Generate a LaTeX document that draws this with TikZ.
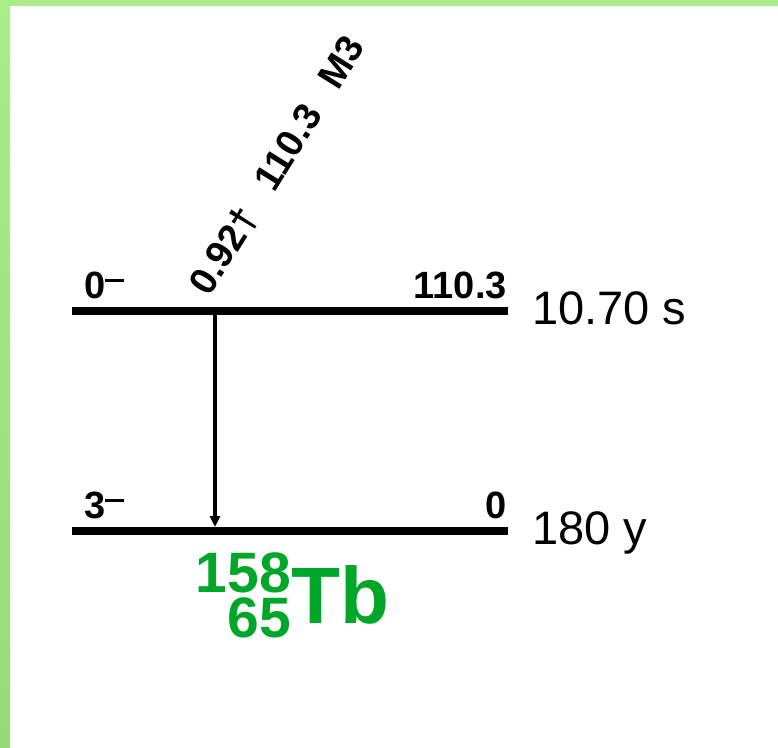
\documentclass[tikz,border=0pt]{standalone}
\usepackage{fontspec}
\setmainfont{Liberation Sans}
\definecolor{framegreen}{RGB}{170,236,136}
\definecolor{framegreendark}{RGB}{152,218,120}
\definecolor{nuclidegreen}{RGB}{0,166,40}
\usetikzlibrary{arrows.meta,positioning}

\newcommand{\spinminus}{\raisebox{0.43em}{\rule{0.5em}{0.07em}}}

\begin{document}
\begin{tikzpicture}[x=1pt,y=-1pt,
    every node/.style={inner sep=0pt},
    lvltext/.style={font=\fontsize{38}{38}\selectfont\bfseries},
    halflife/.style={font=\fontsize{47}{47}\selectfont, anchor=base west},
    nucl/.style={font=\fontsize{#1}{#1}\selectfont\bfseries, text=nuclidegreen}]
  \useasboundingbox (0,0) rectangle (778,747);
  % frame
  \fill[framegreen] (0,0) rectangle (778,6);
  \shade[top color=framegreen, bottom color=framegreendark] (0,0) rectangle (10,747);
  % levels
  \foreach \lv/\yy/\jp/\en/\hl in {up/311/0/110.3/10.70 s, lo/531/3/0/180 y}
  {
    \coordinate (\lv L) at (72,\yy);
    \coordinate (\lv R) at (508,\yy);
    \draw[line width=8pt] (\lv L) -- (\lv R);
    \node[lvltext, anchor=base west] (\lv spin) at (84,\yy-13) {\jp\spinminus};
    \node[lvltext, anchor=base east] (\lv en) at (507,\yy-13) {\en};
    \node[halflife] (\lv hl) at (532,\yy+13) {\hl};
  }
  % transition
  \coordinate (gtop) at (215,315);
  \coordinate (gbot) at (215,527);
  \draw[line width=3.5pt, -{Triangle[length=11pt,width=10pt]}] (gtop) -- (gbot);
  \node[lvltext, rotate=58, anchor=base west] (glbl) at (209,298)
    {0.92†\hspace{0.45em} 110.3\hspace{0.45em} M3};
  % nuclide
  \node[nucl=80, anchor=base west] (elem) at (291,623) {Tb};
  \node[nucl=57, anchor=base east] (mass) at (291,592) {158};
  \node[nucl=57, anchor=base east] (charge) at (291,637) {65};
\end{tikzpicture}
\end{document}
